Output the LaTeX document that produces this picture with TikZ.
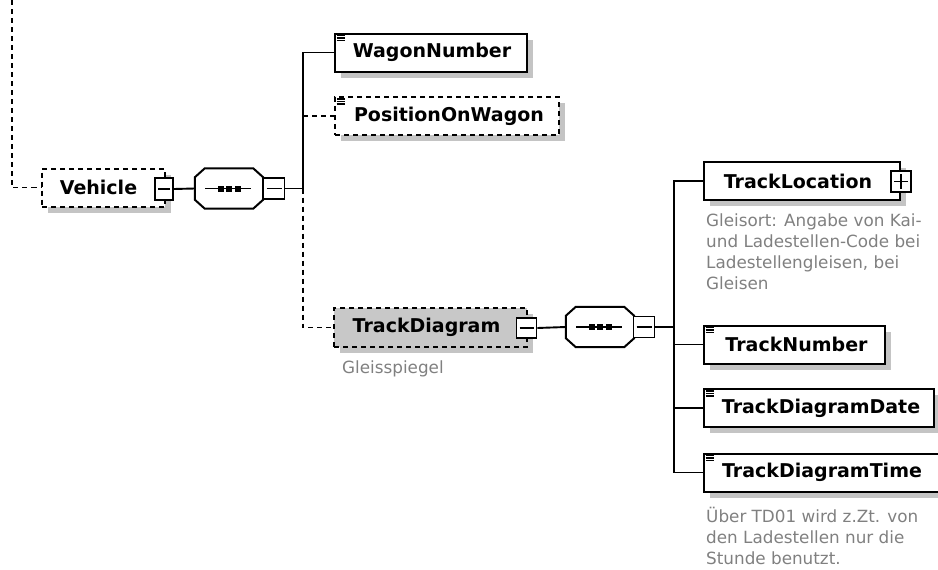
\documentclass[tikz,border=0pt]{standalone}
\usepackage{fontspec}
\setmainfont{DejaVu Sans}
\usetikzlibrary{calc,shadows}

\definecolor{shadowgray}{RGB}{196,196,196}
\definecolor{fillgray}{RGB}{200,200,200}
\definecolor{notegray}{RGB}{128,128,128}

\tikzset{
  wire/.style={line width=1.9pt, line cap=butt},
  optwire/.style={wire, dash pattern=on 5pt off 4pt},
  boxshadow/.style={drop shadow={shadow xshift=6pt, shadow yshift=-6pt, fill=shadowgray, opacity=1}},
  elembox/.style={draw=black, line width=2pt, fill=white, boxshadow,
    minimum height=38pt, inner sep=0pt, font=\fontsize{19}{19}\selectfont\bfseries},
  optbox/.style={elembox, dash pattern=on 5pt off 4pt},
  btn/.style={draw=black, line width=1.6pt, fill=white, minimum width=18pt,
    minimum height=22pt, inner sep=0pt,
    path picture={\draw[line width=1.6pt]
      ([xshift=3pt]path picture bounding box.west) -- ([xshift=-3pt]path picture bounding box.east);}},
  plusbtn/.style={btn,
    path picture={\draw[line width=1.6pt]
      ([xshift=3pt]path picture bounding box.west) -- ([xshift=-3pt]path picture bounding box.east)
      ([yshift=-3pt]path picture bounding box.north) -- ([yshift=3pt]path picture bounding box.south);}},
  seqbox/.style={minimum width=68pt, minimum height=40pt, inner sep=0pt},
  note/.style={anchor=north west, inner sep=0pt, align=left, text=notegray,
    font=\fontsize{16.8}{21}\selectfont},
}

% sequence compositor: octagon with shadow and the dotted bar
\newcommand\seqdraw[1]{%
  \fill[shadowgray, shift={(6,6)}]
    ($(#1.north west)+(10,0)$) -- ($(#1.north east)+(-10,0)$) -- ($(#1.north east)+(0,9)$)
    -- ($(#1.south east)+(0,-9)$) -- ($(#1.south east)+(-10,0)$) -- ($(#1.south west)+(10,0)$)
    -- ($(#1.south west)+(0,-9)$) -- ($(#1.north west)+(0,9)$) -- cycle;
  \draw[line width=2pt, fill=white]
    ($(#1.north west)+(10,0)$) -- ($(#1.north east)+(-10,0)$) -- ($(#1.north east)+(0,9)$)
    -- ($(#1.south east)+(0,-9)$) -- ($(#1.south east)+(-10,0)$) -- ($(#1.south west)+(10,0)$)
    -- ($(#1.south west)+(0,-9)$) -- ($(#1.north west)+(0,9)$) -- cycle;
  \draw[line width=1.6pt] ($(#1.center)+(-24,0)$) -- ($(#1.center)+(22,0)$);
  \foreach \dx in {-8.5,0,8.5} \fill ($(#1.center)+(\dx-3,-3)$) rectangle ++(6,6);
}

% marker of a simple-typed element: three short bars in the corner
\newcommand\simpleicon[1]{%
  \foreach \dy in {3,5.5,8}
    \draw[line width=1.2pt] ($(#1.north west)+(2.5,\dy)$) -- ++(8,0);
}

\begin{document}
\begin{tikzpicture}[x=1pt,y=-1pt]
\useasboundingbox (0,0) rectangle (938,570);

% ---- Vehicle and its sequence ----
\node[optbox, minimum width=123pt] (veh) at (103.5,187.5) {Vehicle\hspace*{10pt}};
\node[btn] (vehbtn) at (164,189) {};
\node[seqbox] (seq1) at (229,188.5) {};
\seqdraw{seq1}
\node[btn, minimum width=21pt, minimum height=21pt] (seq1btn) at (274,188.5) {};
\coordinate (j1) at (303,188.5);
\coordinate (top) at (12,0);

\draw[optwire] (top) |- (veh.west);
\draw[wire] (vehbtn.east) -- (seq1.west);
\draw[wire] (seq1btn.east) -- (j1);

% ---- children of Vehicle ----
\node[elembox, minimum width=192pt] (wagon) at (431,52.5) {\hspace*{2pt}WagonNumber};
\simpleicon{wagon}
\node[optbox, minimum width=224pt] (pos) at (447,116) {\hspace*{4pt}PositionOnWagon};
\simpleicon{pos}
\node[optbox, fill=fillgray, minimum width=193pt, minimum height=39pt] (track) at (430.5,327.5) {TrackDiagram\hspace*{8pt}};
\node[btn, minimum width=20pt, minimum height=20pt] (trackbtn) at (526.5,328) {};
\node[note] (tracknote) at (342,361) {Gleisspiegel};

\draw[wire] (j1) |- (wagon.west);
\draw[optwire] (pos.west -| j1) -- (pos.west);
\draw[optwire] (j1) |- (track.west);

% ---- TrackDiagram and its sequence ----
\node[seqbox] (seq2) at (600,327) {};
\seqdraw{seq2}
\node[btn, minimum width=21pt, minimum height=21pt] (seq2btn) at (644,327) {};
\coordinate (j2) at (674,327);
\draw[wire] (trackbtn.east) -- (seq2.west);
\draw[wire] (seq2btn.east) -- (j2);

% ---- children of TrackDiagram ----
\node[elembox, minimum width=196pt] (loc) at (802,181) {TrackLocation\hspace*{8pt}};
\node[plusbtn, minimum width=20pt, minimum height=21pt] (locbtn) at (901,181.5) {};
\node[note] (locnote) at (706,214) {Gleisort: Angabe von Kai-\\und Ladestellen-Code bei\\Ladestellengleisen, bei\\Gleisen};

\node[elembox, minimum width=181pt] (tnum) at (794.5,344.5) {\hspace*{4pt}TrackNumber};
\simpleicon{tnum}
\node[elembox, minimum width=230pt] (tdate) at (819,408) {\hspace*{4pt}TrackDiagramDate};
\simpleicon{tdate}
\node[elembox, minimum width=238pt] (ttime) at (823,472.5) {\hspace*{4pt}TrackDiagramTime\hspace*{6pt}};
\simpleicon{ttime}
\node[note] (timenote) at (706,507) {Über TD01 wird z.Zt. von\\den Ladestellen nur die\\Stunde benutzt.};

\draw[wire] (j2) |- (loc.west);
\draw[wire] (j2) |- (ttime.west);
\draw[wire] (tnum.west -| j2) -- (tnum.west);
\draw[wire] (tdate.west -| j2) -- (tdate.west);
\end{tikzpicture}
\end{document}
